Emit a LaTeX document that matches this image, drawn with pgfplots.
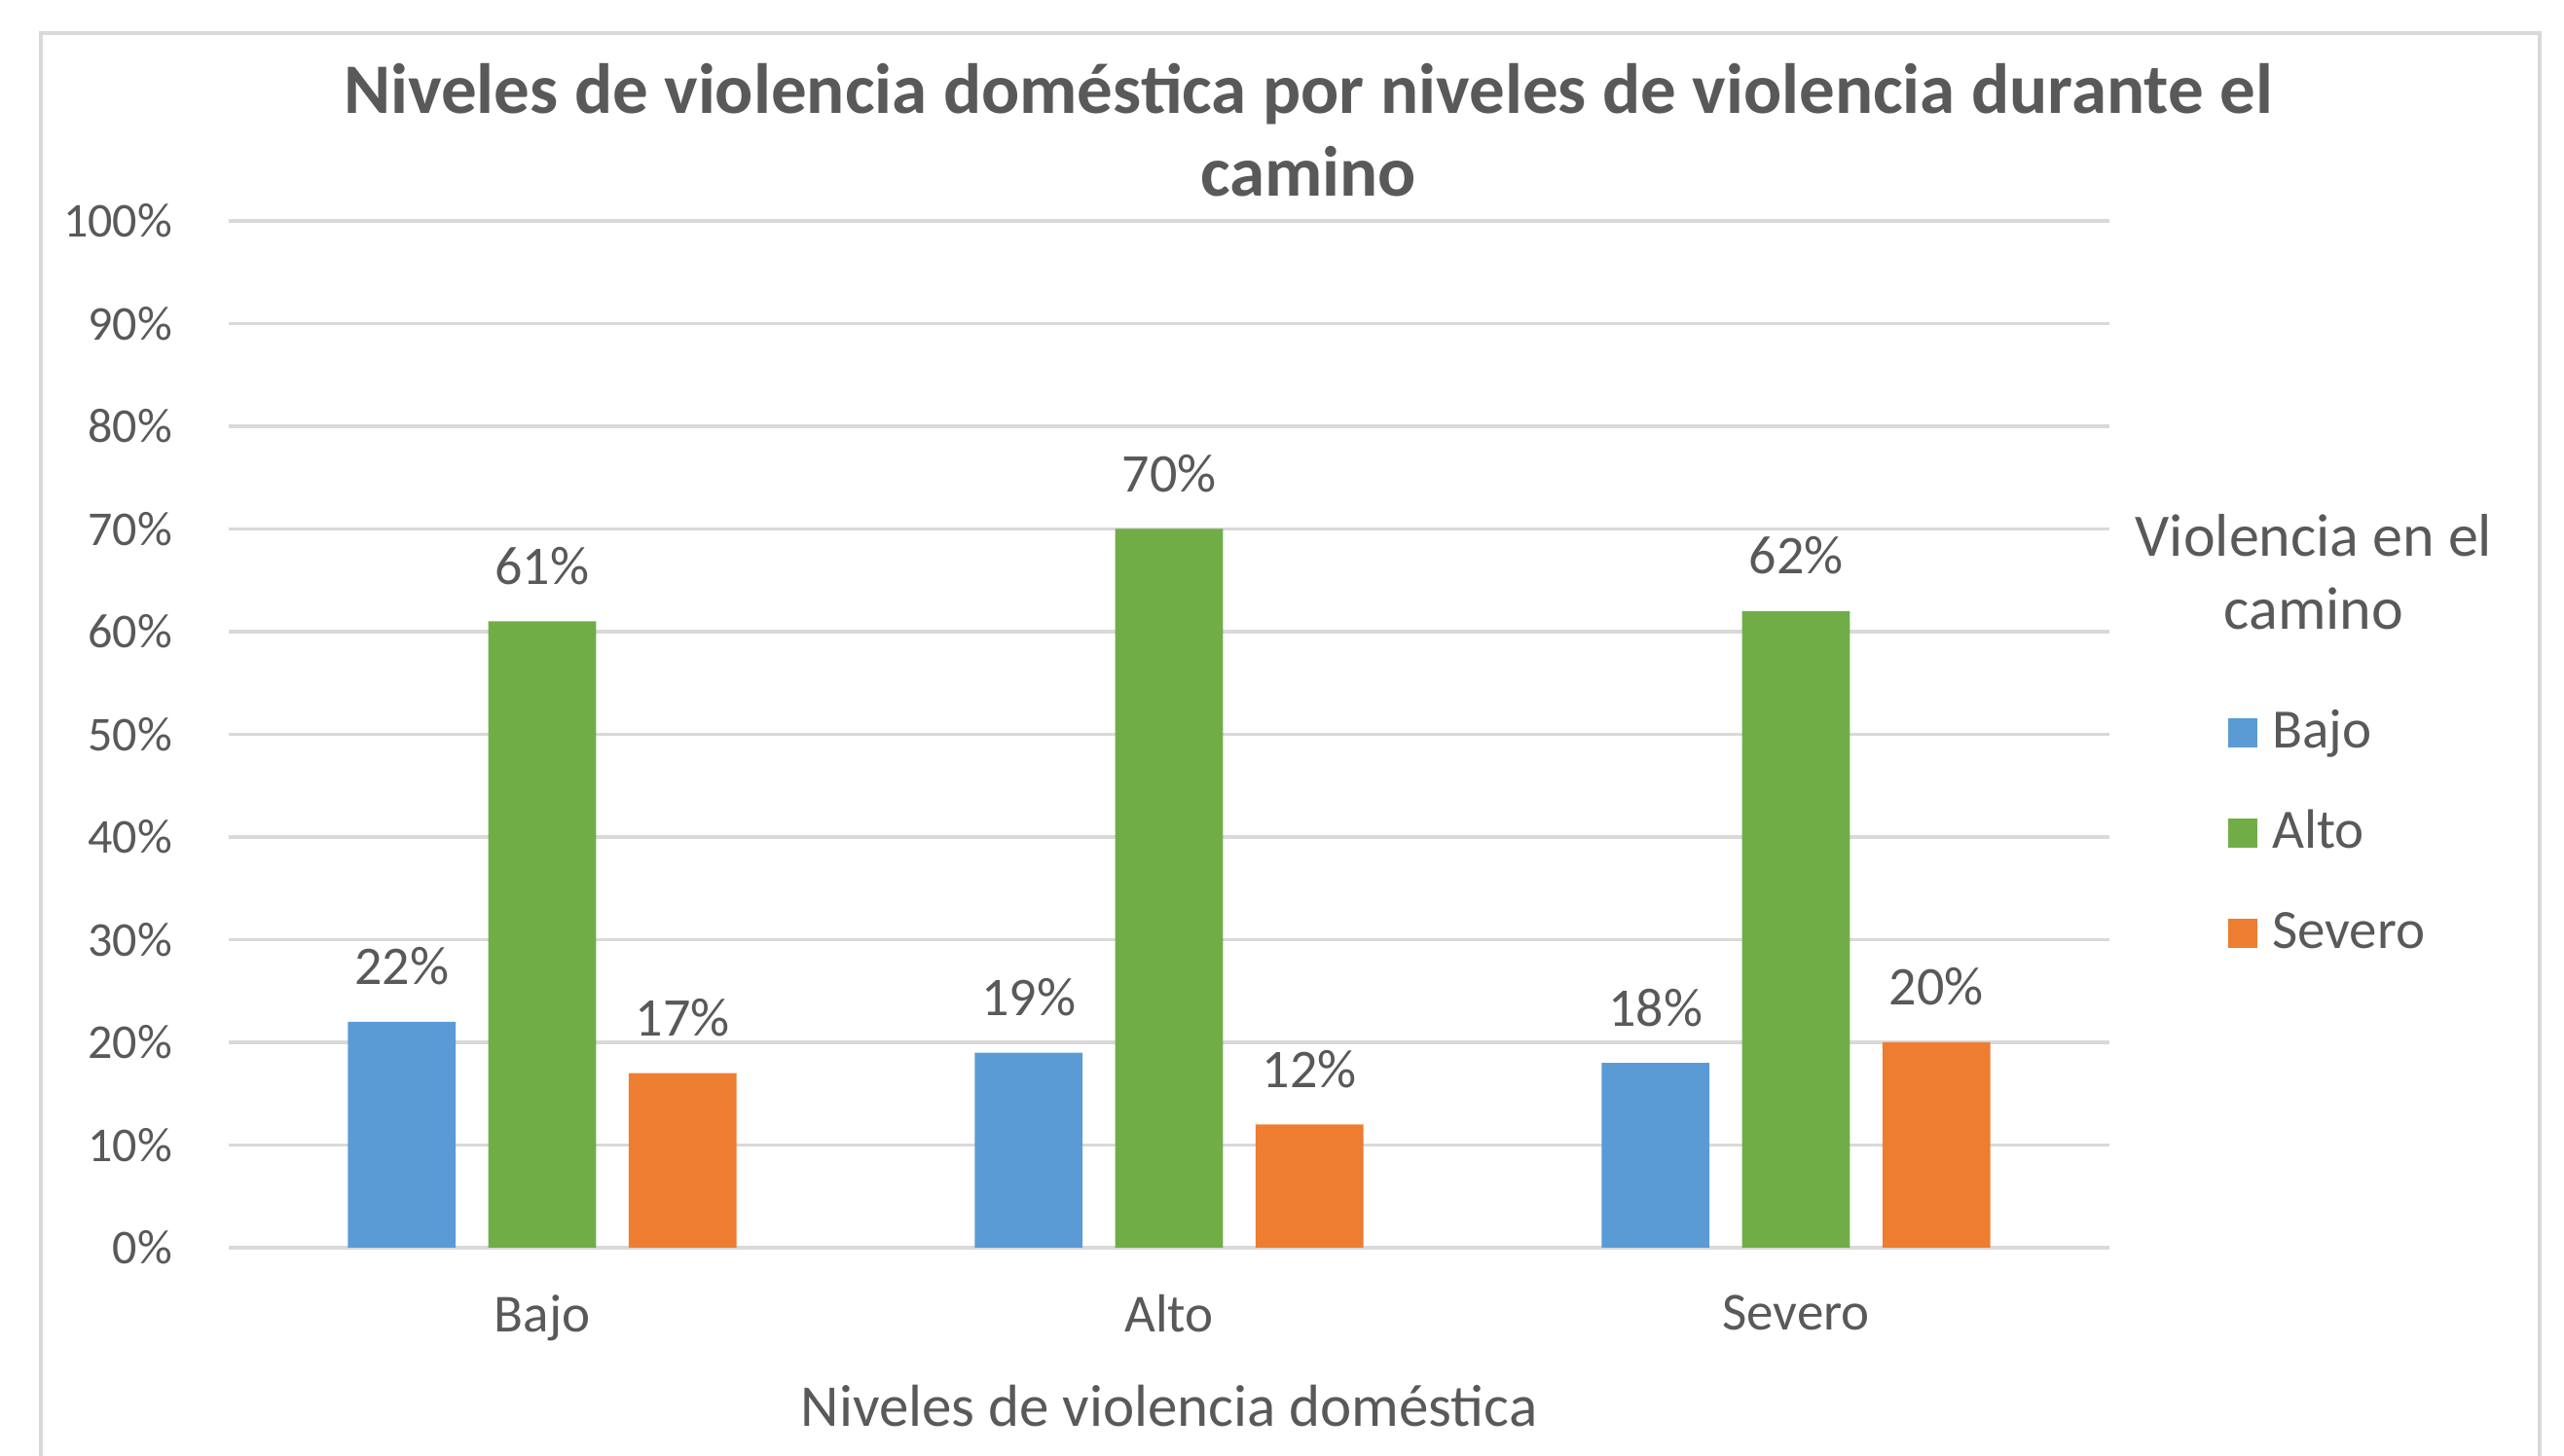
\documentclass[border=0pt]{standalone}
\usepackage{pgfplots}
\pgfplotsset{compat=1.18}
\usepackage{fontspec}
\setmainfont{Carlito}
\definecolor{cblue}{HTML}{5B9BD5}
\definecolor{cgreen}{HTML}{70AD47}
\definecolor{corange}{HTML}{ED7D31}
\definecolor{cgrid}{HTML}{D9D9D9}
\definecolor{ctext}{HTML}{595959}
\pgfplotsset{sq legend/.style={legend image code/.code={\fill[##1,draw=none] (0pt,0pt) rectangle (6pt,6pt);}}}
\begin{document}
\begin{tikzpicture}
\path[use as bounding box] (-47pt,-42.8pt) rectangle (479.8pt,256.4pt);
\draw[cgrid, line width=0.7pt] (-38.6pt,-48pt) -- (-38.6pt,249.6pt) -- (474.8pt,249.6pt) -- (474.8pt,-48pt);
\begin{axis}[
 scale only axis, width=386.4pt, height=211pt,
 xmin=-0.5, xmax=2.5, ymin=0, ymax=100,
 axis x line*=bottom, axis y line*=left,
 x axis line style={draw=cgrid, line width=0.75pt, -},
 y axis line style={draw=none},
 ytick={0,10,...,100}, xtick={0,1,2}, xticklabels={Bajo,Alto,Severo},
 yticklabel={\pgfmathprintnumber{\tick}\%},
 major tick length=0pt,
 ymajorgrids, grid style={draw=cgrid, line width=0.75pt},
 /pgf/number format/assume math mode=true,
 yticklabel style={anchor=east, inner sep=0pt, xshift=-11.4pt, font=\fontsize{10}{12}\selectfont, text=ctext},
 xticklabel style={anchor=north, inner sep=0pt, yshift=-9.5pt, font=\fontsize{11}{13}\selectfont, text=ctext},
 xlabel={Niveles de violencia doméstica},
 xlabel style={at={(axis description cs:0.5,0)}, anchor=base, inner sep=0pt, yshift=-36.6pt, font=\fontsize{12.2}{14}\selectfont, text=ctext},
 ybar, bar width=0.172,
 nodes near coords={\pgfmathprintnumber{\pgfplotspointmeta}\%},
 nodes near coords style={anchor=base, inner sep=0pt, yshift=7.6pt, font=\fontsize{11.2}{13}\selectfont, text=ctext},
 legend style={at={(axis description cs:1.0627,0.526)}, anchor=north west, draw=none, fill=none, inner sep=0pt,
   font=\fontsize{11.4}{13}\selectfont, text=ctext, row sep=10pt,
   nodes={inner sep=0pt, text height=8pt, text depth=2.6pt, anchor=base west},
   /tikz/every odd column/.append style={column sep=3pt}},
 legend cell align=left,
]
\addplot[fill=cblue, draw=none, bar shift=-0.224, sq legend] coordinates {(0,22) (1,19) (2,18)};
\addplot[fill=cgreen, draw=none, bar shift=0, sq legend] coordinates {(0,61) (1,70) (2,62)};
\addplot[fill=corange, draw=none, bar shift=0.224, sq legend] coordinates {(0,17) (1,12) (2,20)};
\legend{Bajo,Alto,Severo}
\end{axis}
\node[anchor=base, font=\fontsize{14.6}{17}\selectfont\bfseries, text=ctext] at (221.8pt,233pt) {Niveles de violencia doméstica por niveles de violencia durante el};
\node[anchor=base, font=\fontsize{14.6}{17}\selectfont\bfseries, text=ctext] at (221.8pt,216pt) {camino};
\node[anchor=base, font=\fontsize{12.4}{15}\selectfont, text=ctext] at (428.4pt,142pt) {Violencia en el};
\node[anchor=base, font=\fontsize{12.4}{15}\selectfont, text=ctext] at (428.4pt,127pt) {camino};
\end{tikzpicture}
\end{document}
